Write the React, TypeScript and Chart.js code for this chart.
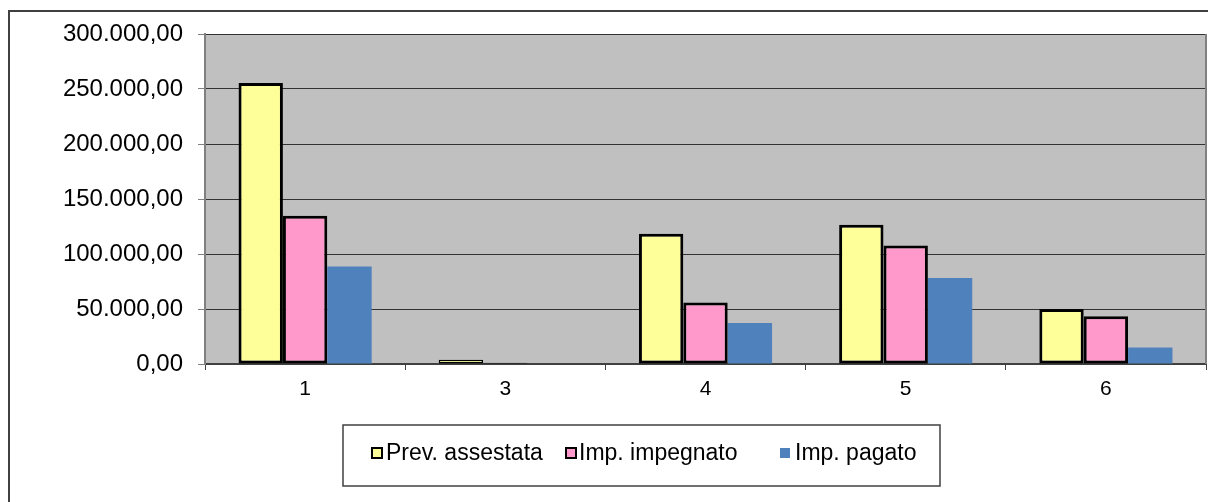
import React, { useEffect, useRef } from "react";
import { Chart, registerables } from "chart.js";

Chart.register(...registerables);

const categories = ["1", "3", "4", "5", "6"];
const prevAssestata = [255500, 3800, 118500, 126600, 50000];
const impImpegnato = [134800, 1200, 56000, 107800, 43300];
const impPagato = [88700, 0, 37300, 78200, 15100];
const seriesLabels = ["Prev. assestata", "Imp. impegnato", "Imp. pagato"];
const yTicks = [0, 50000, 100000, 150000, 200000, 250000, 300000];

function fmtIt(v: number): string {
  const neg = v < 0;
  const n = Math.abs(v);
  const intPart = Math.floor(n);
  const dec = Math.round((n - intPart) * 100);
  const s = String(intPart).replace(/\B(?=(\d{3})+(?!\d))/g, ".");
  return (neg ? "-" : "") + s + "," + String(dec).padStart(2, "0");
}

const FONT = "'Liberation Sans', Arial, sans-serif";

const decorPlugin = {
  id: "decor",
  beforeDraw(chart: any) {
    const { ctx, chartArea } = chart;
    ctx.save();
    ctx.fillStyle = "#ffffff";
    ctx.fillRect(0, 0, chart.width, chart.height);
    ctx.fillStyle = "#C0C0C0";
    ctx.fillRect(chartArea.left, chartArea.top, chartArea.right - chartArea.left, chartArea.bottom - chartArea.top);
    ctx.strokeStyle = "#404040";
    ctx.lineWidth = 2;
    ctx.beginPath();
    ctx.moveTo(9, chart.height + 2);
    ctx.lineTo(9, 11);
    ctx.lineTo(chart.width + 2, 11);
    ctx.stroke();
    ctx.restore();
  },
  afterDraw(chart: any) {
    const { ctx, chartArea } = chart;
    ctx.save();
    ctx.strokeStyle = "#808080";
    ctx.lineWidth = 2;
    ctx.beginPath();
    ctx.moveTo(chartArea.right, chartArea.top);
    ctx.lineTo(chartArea.right, chartArea.bottom);
    ctx.stroke();
    ctx.strokeStyle = "#404040";
    ctx.lineWidth = 1.5;
    ctx.strokeRect(343, 425, 597, 61);
    const items = chart.data.datasets.map((ds: any) => ({
      label: ds.label,
      fill: ds.backgroundColor,
      border: ds.borderColor === "#000000",
    }));
    const markerX = [372, 566, 780];
    const textX = [386, 579, 795];
    ctx.font = "23px " + FONT;
    ctx.textBaseline = "middle";
    ctx.textAlign = "left";
    items.forEach((it: any, i: number) => {
      ctx.fillStyle = it.fill;
      ctx.fillRect(markerX[i], 448, 10, 10);
      if (it.border) {
        ctx.strokeStyle = "#000000";
        ctx.lineWidth = 2;
        ctx.strokeRect(markerX[i], 448, 10, 10);
      }
      ctx.fillStyle = "#000000";
      ctx.fillText(it.label, textX[i], 454);
    });
    ctx.restore();
  },
};

const bw = (c: any) => {
  const v = c.raw ?? 0;
  return v < 10000 ? 1.5 : 3;
};

export default function App() {
  const ref = useRef<HTMLCanvasElement>(null);
  useEffect(() => {
    if (!ref.current) return;
    const chart = new Chart(ref.current, {
      type: "bar",
      data: {
        labels: categories,
        datasets: [
          {
            label: seriesLabels[0],
            data: prevAssestata,
            backgroundColor: "#FFFF99",
            borderColor: "#000000",
            borderWidth: bw,
            borderSkipped: false,
          },
          {
            label: seriesLabels[1],
            data: impImpegnato,
            backgroundColor: "#FF99CC",
            borderColor: "#000000",
            borderWidth: bw,
            borderSkipped: false,
          },
          {
            label: seriesLabels[2],
            data: impPagato,
            backgroundColor: "#4F81BD",
            borderColor: "#4F81BD",
            borderWidth: 0,
          },
        ],
      },
      options: {
        animation: false,
        responsive: false,
        maintainAspectRatio: false,
        layout: { padding: { top: 34, right: 2, left: 0, bottom: 0 } },
        plugins: { legend: { display: false }, tooltip: { enabled: false } },
        datasets: { bar: { categoryPercentage: 0.665, barPercentage: 1 } },
        scales: {
          x: {
            afterFit(scale: any) {
              scale.height = 138;
            },
            grid: {
              offset: true,
              drawOnChartArea: false,
              drawTicks: true,
              tickLength: 6,
              color: "#404040",
            },
            border: { color: "#404040", width: 2 },
            ticks: {
              color: "#000000",
              padding: 7,
              font: { family: FONT, size: 21 },
              maxRotation: 0,
            },
          },
          y: {
            min: 0,
            max: 300000,
            afterFit(scale: any) {
              scale.width = 205;
            },
            afterBuildTicks(scale: any) {
              scale.ticks = yTicks.map((v) => ({ value: v }));
            },
            grid: {
              color: "#333333",
              tickColor: "#808080",
              tickLength: 7,
              drawTicks: true,
            },
            border: { color: "#808080", width: 2 },
            ticks: {
              color: "#000000",
              padding: 15,
              font: { family: FONT, size: 24 },
              callback: (v: any) => fmtIt(Number(v)),
            },
          },
        },
      },
      plugins: [decorPlugin],
    });
    return () => chart.destroy();
  }, []);
  return (
    <div style={{ position: "fixed", left: 0, top: 0, width: 1208, height: 502, background: "#fff" }}>
      <canvas ref={ref} width={1208} height={502} style={{ width: 1208, height: 502, display: "block" }} />
    </div>
  );
}
